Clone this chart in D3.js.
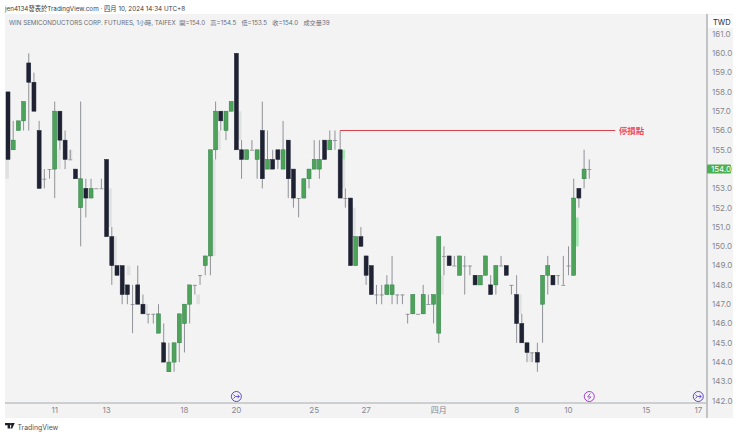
<!DOCTYPE html>
<html>
<head>
<meta charset="utf-8">
<script src="https://d3js.org/d3.v7.min.js"></script>
<style>
  html, body { margin: 0; padding: 0; background: #fff; }
  svg { display: block; }
  text { font-family: "Inter", "Noto Sans CJK TC", sans-serif; white-space: pre; }
  .axisText { font-size: 8px; fill: #85878f; }
</style>
</head>
<body>
<div id="chart"></div>
<script>
// one row per hourly candle: open, high, low, close
var opens =  [158,155,156,156.5,159.5,158.5,156,153.5,154,154,157,155.5,154.5,154,152,153,152.5,153,153,154.5,
  150.5,149,149,148,147,148,147,146.5,146.5,145.5,145,143.5,144,145,146,147,148,148.5,149,149.5,
  155,157,156,157,160,155,154.5,155,154.5,156,154,154.5,155,154,155.5,154,152.5,152.5,153.5,154,
  154,155.5,155,155.5,155,152.5,152.5,149,150.5,149.5,149,147.5,147.5,147.5,147.5,147.5,147.5,146.5,146.5,146.5,
  146.5,147,147,145.5,149.5,149.5,149,148.5,149,149,148.5,148,148.5,148,148,149,149,148,147.5,146,
  145,144.5,144.5,147,148.5,148.5,148.5,148,149,148.5,153,153.5,154];
var highs =  [158,156.5,156.5,157.5,160,159,156.5,154,154,157.5,157,156,155,154,157.5,153.5,153.5,153,153.5,154.5,
  151,149,149,148,148,149,147.5,146.5,146.5,147,146,145,145,146.5,147,148,148,148.5,149.5,155,
  157.5,157,157,157.5,160,155.5,155,155.5,155,157.5,156,155,155,156.5,155.5,154,152.5,153.5,154,155.5,
  155.5,155.5,156,156,156,153,152.5,150.5,151,149.5,149,148,148,148.5,149.5,147.5,147.5,146.5,147.5,146.5,
  148,147.5,147.5,150.5,150,149.5,149.5,149.5,149.5,149,148.5,148.5,149.5,148.5,149,149.5,149,148,148.5,146.5,
  145,144.5,145,148.5,149.5,148.5,148.5,149.5,150,153.5,153,155,154.5];
var lows =   [154.5,155,156,156,156,157,153,153,153.5,152.5,155,154,154.5,153.5,150,151.5,152.5,153,153,150.5,
  148,148.5,147,147,145.5,147,146.5,146,146,145.5,144,143.5,143.5,144,144.5,146,147.5,148,148.5,148.5,
  154.5,156,155.5,157,155,153.5,154.5,155,153.5,153,154,154,154,154,152.5,152,151.5,152.5,153,154,
  153.5,154.5,155,155,152.5,152,149,149,150,148,147.5,147,147,147.5,147,147,147,146,146.5,146.5,
  146.5,147,146,145,148.5,149,149,148.5,147.5,148.5,148,148,148.5,147.5,147.5,149,148.5,147.5,145,145,
  144,144,143.5,145,147.5,148,148,148,148.5,148.5,152,153,153.5];
var closes = [154.5,155.5,156.5,157.5,158.5,157,153,153.5,154,157,155.5,154.5,154.5,153.5,153.5,152.5,153,153,153,150.5,
  149,148.5,147.5,147.5,147,147,146.5,146.5,146.5,146.5,144,144,145,146.5,147,148,148,148.5,149.5,155,
  157,156.5,157,157.5,155,154.5,155,155,155,153.5,154.5,154,154.5,155,153.5,152.5,152.5,153.5,154,154.5,
  154.5,154.5,155.5,155.5,152.5,152.5,149,150.5,150,148.5,147.5,147.5,147.5,148,148,147.5,147.5,146.5,147.5,146.5,
  147.5,147,147.5,150.5,149.5,149,149,149.5,149,149,148,148.5,149.5,147.5,149,149,148.5,148,146,145,
  144.5,144.5,144,148.5,149,148,148.5,148,149,152.5,152.5,154,154];

// pale shadow blocks beside some candles: position on the candle index, top, bottom
var shadeIdx = [-0.8,9.2,11.4,19,20,22.6,26,36,39,40,44,64,66,83,98,100];
var shadeTop = [154.5,155,155,153,150.5,149,147,147.5,154.5,156,157,154.5,152,148.5,147.5,144.5];
var shadeBot = [153.5,154,154.5,151,149,148.5,146.5,147,149.5,155,155.5,153,150.5,147.5,146.5,144];
// pale green blocks
var mintIdx = [64,109];
var mintTop = [155,151.5];
var mintBot = [154.5,150];

var priceTicks = d3.range(142, 162);
var timeIdx = [9,19,34,44,59,69,83,98,108,123,133];
var timeLabels = ["11","13","18","20","25","27","四月","8","10","15","17"];

var eventIdx = [44,112,133];
var eventKind = ["split","bolt","split"];

var stopPrice = 156;
var stopStart = 64;
var stopEnd = 117;
var lastPrice = 154;

var upColor = "#4ea35a";
var upEdge = "#2f7d46";
var downColor = "#1e2233";
var wickColor = "#85878c";

var width = 740, height = 436;
var svg = d3.select("#chart").append("svg").attr("width", width).attr("height", height);

var x = d3.scaleLinear().domain([0, 1]).range([8, 13.19]);
var y = d3.scaleLinear().domain([142, 161]).range([400.7, 34]);

// panes
svg.append("rect").attr("x", 5).attr("y", 14).attr("width", 728).attr("height", 404).attr("fill", "#f3f3f3");
svg.append("line").attr("x1", 5).attr("x2", 707).attr("y1", 403).attr("y2", 403).attr("stroke", "#a9aaad").attr("stroke-width", 1);
svg.append("line").attr("x1", 707).attr("x2", 707).attr("y1", 14).attr("y2", 418).attr("stroke", "#b2b3b6").attr("stroke-width", 1.5);

// header
svg.append("text").attr("x", 5).attr("y", 10.5).attr("font-size", 6.3).attr("fill", "#3a3d45")
  .text("jen4134發表於TradingView.com · 四月 10, 2024 14:34 UTC+8");
svg.append("text").attr("x", 9).attr("y", 24.5).attr("font-size", 6.2).attr("fill", "#6a6d78")
  .text("WIN SEMICONDUCTORS CORP. FUTURES, 1小時, TAIFEX  開=154.0   高=154.5   低=153.5   收=154.0   成交量39");

// shadows
svg.append("g").selectAll("rect").data(shadeIdx).enter().append("rect")
  .attr("x", function(d) { return x(d) + 1.5; })
  .attr("width", 3.6)
  .attr("y", function(d, i) { return y(shadeTop[i]); })
  .attr("height", function(d, i) { return y(shadeBot[i]) - y(shadeTop[i]); })
  .attr("fill", "#e0e1e1");
svg.append("g").selectAll("rect").data(mintIdx).enter().append("rect")
  .attr("x", function(d) { return x(d) + 2; })
  .attr("width", 3)
  .attr("y", function(d, i) { return y(mintTop[i]); })
  .attr("height", function(d, i) { return y(mintBot[i]) - y(mintTop[i]); })
  .attr("fill", "#a6e8b4");

// candles
var candles = svg.append("g").selectAll("g").data(opens).enter().append("g");
candles.append("line")
  .attr("x1", function(d, i) { return x(i); })
  .attr("x2", function(d, i) { return x(i); })
  .attr("y1", function(d, i) { return y(highs[i]); })
  .attr("y2", function(d, i) { return y(lows[i]); })
  .attr("stroke", wickColor).attr("stroke-width", 0.9);
candles.append("rect")
  .attr("x", function(d, i) { return x(i) - 2; })
  .attr("width", 4)
  .attr("y", function(d, i) { return y(Math.max(opens[i], closes[i])); })
  .attr("height", function(d, i) { return Math.max(0.8, Math.abs(y(opens[i]) - y(closes[i]))); })
  .attr("fill", function(d, i) {
    if (opens[i] == closes[i]) return wickColor;
    return closes[i] > opens[i] ? upColor : downColor;
  })
  .attr("stroke", function(d, i) {
    if (opens[i] == closes[i]) return "none";
    return closes[i] > opens[i] ? upEdge : downColor;
  })
  .attr("stroke-width", 0.5);

// stop line
svg.append("line").attr("x1", x(stopStart)).attr("x2", x(stopEnd))
  .attr("y1", y(stopPrice)).attr("y2", y(stopPrice))
  .attr("stroke", "#d9434e").attr("stroke-width", 1);
svg.append("text").attr("x", 619).attr("y", y(stopPrice) + 3.5)
  .attr("font-size", 8.4).attr("font-weight", 700).attr("fill", "#ee4d5a").text("停損點");

// price axis
svg.append("g").selectAll("text").data(priceTicks).enter().append("text")
  .attr("class", "axisText")
  .attr("x", 712).attr("y", function(d) { return y(d) + 2.8; })
  .text(function(d) { return d3.format(".1f")(d); });

svg.append("rect").attr("x", 707).attr("y", y(lastPrice) - 4.5).attr("width", 24).attr("height", 9).attr("rx", 1)
  .attr("fill", "#4caf50");
svg.append("text").attr("x", 711).attr("y", y(lastPrice) + 2.8).attr("font-size", 8).attr("fill", "#fff")
  .text(d3.format(".1f")(lastPrice));

svg.append("rect").attr("x", 708).attr("y", 15).attr("width", 25).attr("height", 13).attr("fill", "#fbfbfb");
svg.append("text").attr("x", 713).attr("y", 25).attr("font-size", 7.5).attr("fill", "#2a2e39").text("TWD");

// time axis
svg.append("g").selectAll("text").data(timeIdx).enter().append("text")
  .attr("class", "axisText")
  .attr("text-anchor", "middle")
  .attr("x", function(d) { return x(d); }).attr("y", 413)
  .text(function(d, i) { return timeLabels[i]; });

// event markers
var events = svg.append("g").selectAll("g").data(eventIdx).enter().append("g")
  .attr("transform", function(d) { return "translate(" + x(d) + ",396.5)"; });
events.append("circle").attr("r", 5)
  .attr("fill", "none")
  .attr("stroke", function(d, i) { return eventKind[i] == "bolt" ? "#9c3fd0" : "#5b45d8"; })
  .attr("stroke-width", 1);
events.append("path")
  .attr("d", function(d, i) {
    return eventKind[i] == "bolt" ? "M1,-3L-1.6,0.4H1.6L-1,3" : "M-3,-2L-0.8,0H3M1.2,-1.6L3,0L1.2,1.6M-3,2L-0.8,0";
  })
  .attr("fill", "none")
  .attr("stroke", function(d, i) { return eventKind[i] == "bolt" ? "#9c3fd0" : "#5b45d8"; })
  .attr("stroke-width", 0.9);

// footer logo
var logo = svg.append("g").attr("transform", "translate(5,423)");
logo.append("path").attr("d", "M0,0H5V5.5H2.6V2.2H0ZM5.8,0H9.8L7.2,5.5H5.2L6.6,2.4A1,1 0 1 1 5.8,0Z").attr("fill", "#1e222d");
svg.append("text").attr("x", 17.5).attr("y", 429.5).attr("font-size", 6.9).attr("fill", "#50535e").text("TradingView");
</script>
</body>
</html>
